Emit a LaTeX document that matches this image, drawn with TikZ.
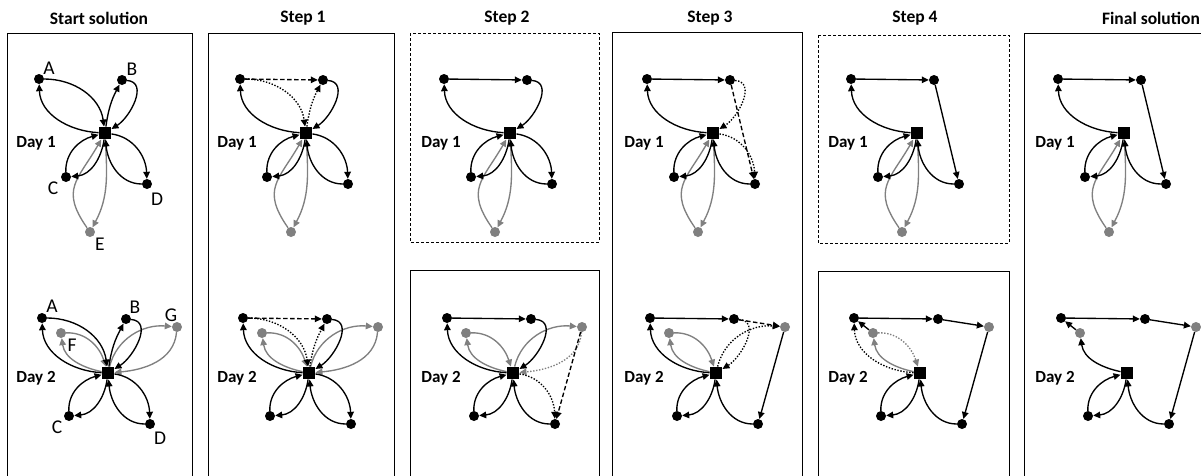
\documentclass[tikz,border=0pt]{standalone}
\usepackage{fontspec}
\setmainfont{Carlito}
\usetikzlibrary{arrows.meta}
\definecolor{gr}{RGB}{128,128,128}
\tikzset{
  x=1pt,y=1pt,
  dot/.style={circle,fill=black,inner sep=0pt,minimum size=10pt},
  gdot/.style={circle,fill=gr,inner sep=0pt,minimum size=10pt},
  depot/.style={rectangle,fill=black,inner sep=0pt,minimum size=12.5pt},
  edge/.style={line width=1.35pt,-{Triangle[length=7pt,width=6.5pt]}},
  gedge/.style={edge,color=gr},
  dott/.style={dash pattern=on 1.4pt off 1.6pt},
  dashd/.style={dash pattern=on 4.5pt off 2.5pt},
  title/.style={font=\fontsize{17.5}{20}\selectfont\bfseries},
  daylbl/.style={font=\fontsize{17}{20}\selectfont\bfseries},
  letter/.style={font=\fontsize{19.5}{22}\selectfont},
  panel/.style={line width=1pt,draw=black},
  dpanel/.style={line width=1pt,draw=black,dash pattern=on 3pt off 2pt},
}
% node placement
\newcommand\dayone[1]{%
  \node[dot] (#1A) at (39,-79) {};
  \node[dot] (#1B) at (122,-80) {};
  \node[depot] (#1S) at (105,-133) {};
  \node[dot] (#1C) at (66,-177) {};
  \node[dot] (#1D) at (147,-184) {};
  \node[gdot] (#1E) at (90,-232) {};
  \node[daylbl] (#1L) at (36,-143) {Day 1};
}
\newcommand\daytwo[1]{%
  \node[dot] (#1A) at (42,-318) {};
  \node[dot] (#1B) at (126,-319) {};
  \node[gdot] (#1G) at (177,-327) {};
  \node[gdot] (#1F) at (61,-333) {};
  \node[depot] (#1S) at (108,-373) {};
  \node[dot] (#1C) at (69,-416) {};
  \node[dot] (#1D) at (150,-424) {};
  \node[daylbl] (#1L) at (36,-378) {Day 2};
}
% edges
\newcommand\eSA[2][]{\draw[edge,#1] (#2S) to[out=177,in=-88] (#2A);}
\newcommand\eAS[2][]{\draw[edge,#1] (#2A) to[out=0,in=98] (#2S);}
\newcommand\eSB[2][]{\draw[edge,#1] (#2S) to[out=82,in=-118] (#2B);}
\newcommand\eBS[2][]{\draw[edge,#1] (#2B) to[out=-5,in=32,looseness=1.1] (#2S);}
\newcommand\eSC[2][]{\draw[edge,#1] (#2S) to[out=-98,in=5] (#2C);}
\newcommand\eCS[2][]{\draw[edge,#1] (#2C) to[out=92,in=195] (#2S);}
\newcommand\eSD[2][]{\draw[edge,#1] (#2S) to[out=-8,in=92] (#2D);}
\newcommand\eDS[2][]{\draw[edge,#1] (#2D) to[out=180,in=-85] (#2S);}
\newcommand\eSE[2][]{\draw[edge,#1] (#2S) to[out=-87,in=62] (#2E);}
\newcommand\eES[2][]{\draw[edge,#1] (#2E) to[out=125,in=240,looseness=1.35] (#2S);}
\newcommand\eSF[2][]{\draw[edge,#1] (#2S) to[out=168,in=-82] (#2F);}
\newcommand\eFS[2][]{\draw[edge,#1] (#2F) to[out=2,in=108] (#2S);}
\newcommand\eSG[2][]{\draw[edge,#1] (#2S) to[out=76,in=175] (#2G);}
\newcommand\eGS[2][]{\draw[edge,#1] (#2G) to[out=-95,in=5] (#2S);}
\newcommand\eX[3][]{\draw[edge,#1] (#2) -- (#3);}
\begin{document}
\begin{tikzpicture}
\useasboundingbox (0,0) rectangle (1201,-475);
\clip (0,0) rectangle (1201,-475);
% frames
\draw[panel] (7,-33) rectangle (192,-480);
\draw[panel] (208,-33) rectangle (394,-480);
\draw[dpanel] (410,-33) rectangle (599,-242);
\draw[panel] (410,-270) rectangle (599,-480);
\draw[panel] (612,-32) rectangle (802,-480);
\draw[dpanel] (818,-35) rectangle (1009,-243);
\draw[panel] (818,-271) rectangle (1009,-480);
\draw[panel] (1024,-33) rectangle (1215,-480);
% titles
\node[title] (t1) at (99,-18) {Start solution};
\node[title] (t2) at (303,-18) {Step 1};
\node[title] (t3) at (507,-18) {Step 2};
\node[title] (t4) at (710,-18) {Step 3};
\node[title] (t5) at (915,-18) {Step 4};
\node[title] (t6) at (1151,-18) {Final solution};

% ---------- Start solution ----------
\begin{scope}
\dayone{a}\daytwo{b}
\eSE[gedge]{a}\eES[gedge]{a}
\eSA{a}\eAS{a}\eSB{a}\eBS{a}\eSC{a}\eCS{a}\eSD{a}\eDS{a}
\eSF[gedge]{b}\eFS[gedge]{b}\eSG[gedge]{b}\eGS[gedge]{b}
\eSA{b}\eAS{b}\eSB{b}\eBS{b}\eSC{b}\eCS{b}\eSD{b}\eDS{b}
\node[letter] (lA1) at (49,-68) {A};
\node[letter] (lB1) at (132,-69) {B};
\node[letter] (lC1) at (53,-188) {C};
\node[letter] (lD1) at (157,-199) {D};
\node[letter] (lE1) at (100,-244) {E};
\node[letter] (lA2) at (52,-306) {A};
\node[letter] (lB2) at (135,-307) {B};
\node[letter] (lG2) at (171,-315) {G};
\node[letter] (lF2) at (72,-345) {F};
\node[letter] (lC2) at (57,-427) {C};
\node[letter] (lD2) at (160,-438) {D};
\end{scope}

% ---------- Step 1 ----------
\begin{scope}[xshift=201pt]
\dayone{c}\daytwo{d}
\eSE[gedge]{c}\eES[gedge]{c}
\eSA{c}\eAS[dott]{c}\eSB[dott]{c}\eBS{c}\eSC{c}\eCS{c}\eSD{c}\eDS{c}
\eX[dashd]{cA}{cB}
\eSF[gedge]{d}\eFS[gedge]{d}\eSG[gedge]{d}\eGS[gedge]{d}
\eSA{d}\eAS[dott]{d}\eSB[dott]{d}\eBS{d}\eSC{d}\eCS{d}\eSD{d}\eDS{d}
\eX[dashd]{dA}{dB}
\end{scope}

% ---------- Step 2 ----------
\begin{scope}[xshift=405pt]
\dayone{e}\daytwo{f}
\eSE[gedge]{e}\eES[gedge]{e}
\eSA{e}\eX{eA}{eB}\eBS{e}\eSC{e}\eCS{e}\eSD{e}\eDS{e}
\eSF[gedge]{f}\eFS[gedge]{f}\eSG[gedge]{f}\eGS[gedge,dott]{f}
\eSA{f}\eX{fA}{fB}\eBS{f}\eSC{f}\eCS{f}\eSD[dott]{f}\eDS{f}
\eX[dashd]{fG}{fD}
\end{scope}

% ---------- Step 3 ----------
\begin{scope}[xshift=608pt]
\dayone{g}\daytwo{h}
\eSE[gedge]{g}\eES[gedge]{g}
\eSA{g}\eX{gA}{gB}\eBS[dott]{g}\eSC{g}\eCS{g}\eSD[dott]{g}\eDS{g}
\eX[dashd]{gB}{gD}
\eSF[gedge]{h}\eFS[gedge]{h}
\eSA{h}\eX{hA}{hB}\eBS[dott]{h}\eSC{h}\eCS{h}\eDS{h}
\eX[dashd]{hB}{hG}\eSG[dott]{h}\eX{hG}{hD}
\end{scope}

% ---------- Step 4 ----------
\begin{scope}[xshift=812pt]
\dayone{i}\daytwo{j}
\eSE[gedge]{i}\eES[gedge]{i}
\eSA{i}\eX{iA}{iB}\eX{iB}{iD}\eSC{i}\eCS{i}\eDS{i}
\eSF[gedge]{j}\eFS[gedge,dott]{j}
\eSA[dott]{j}\eX{jF}{jA}
\eX{jA}{jB}\eX{jB}{jG}\eX{jG}{jD}\eSC{j}\eCS{j}\eDS{j}
\end{scope}

% ---------- Final solution ----------
\begin{scope}[xshift=1019pt]
\dayone{k}\daytwo{l}
\eSE[gedge]{k}\eES[gedge]{k}
\eSA{k}\eX{kA}{kB}\eX{kB}{kD}\eSC{k}\eCS{k}\eDS{k}
\eSF{l}\eX{lF}{lA}
\eX{lA}{lB}\eX{lB}{lG}\eX{lG}{lD}\eSC{l}\eCS{l}\eDS{l}
\end{scope}
\end{tikzpicture}
\end{document}
